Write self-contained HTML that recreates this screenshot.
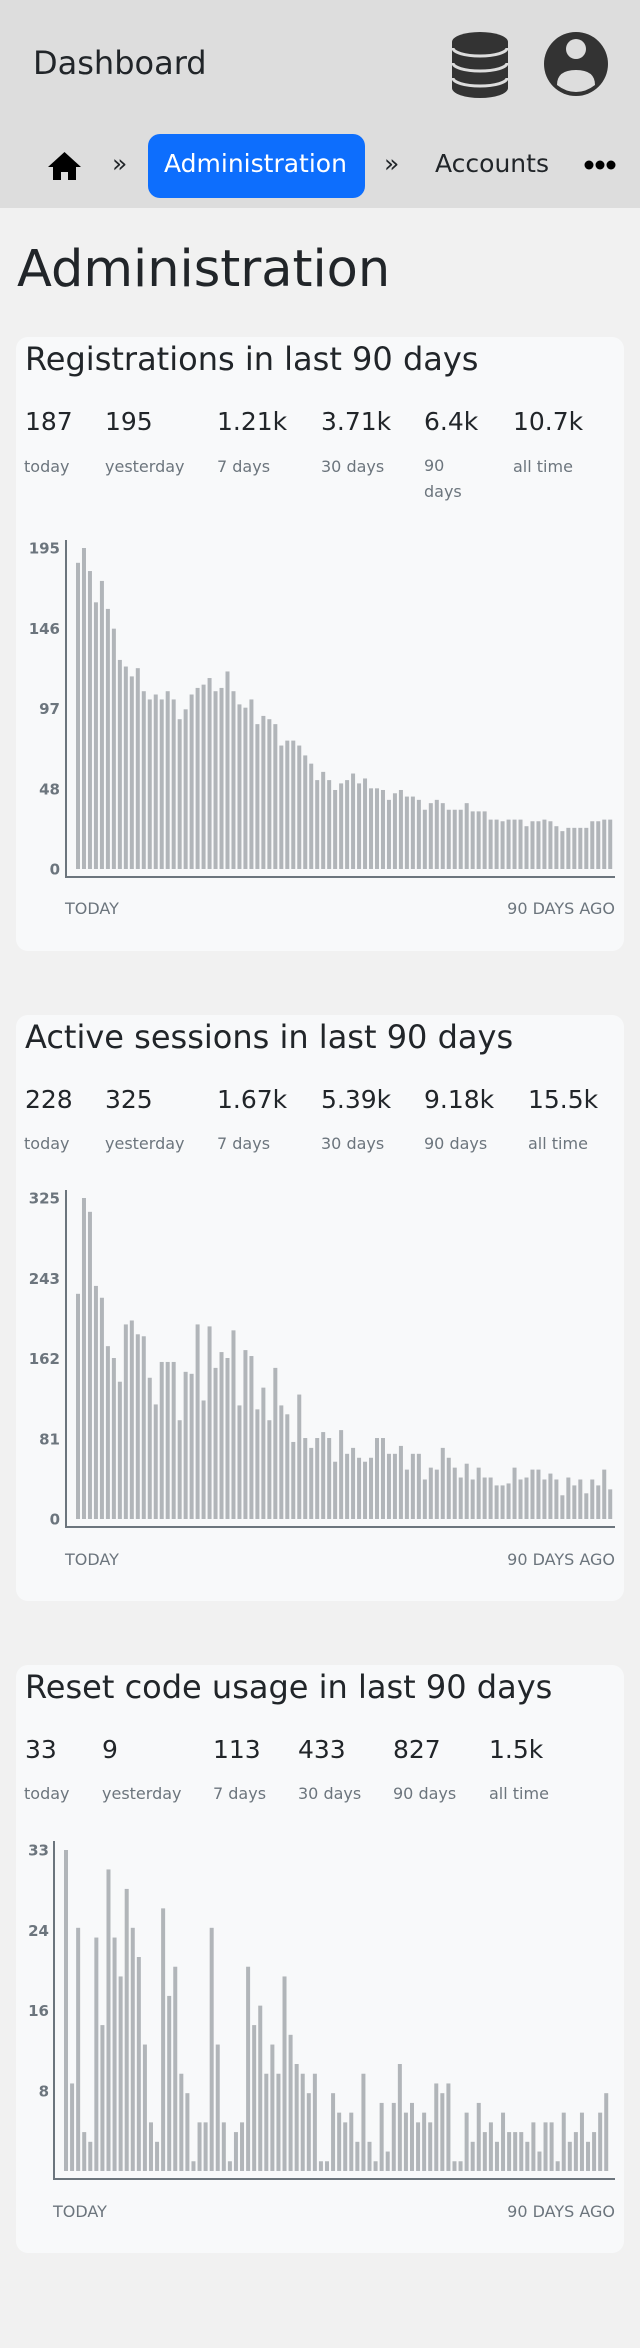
<!DOCTYPE html>
<html><head><meta charset="utf-8">
<style>
html,body{margin:0;padding:0}
body{width:640px;height:2348px;background:#f1f1f1;position:relative;overflow:hidden;font-family:"DejaVu Sans","Liberation Sans",sans-serif;color:#212529}
.a{position:absolute;line-height:1;white-space:nowrap}
.card{position:absolute;left:16px;width:608px;background:#f8f9fa;border-radius:12px}
.t{font-size:32px;color:#212529}
.n{font-size:25px;color:#212529}
.l{font-size:16px;color:#6c757d}
.l2{font-size:16px;color:#6c757d;line-height:26px;white-space:normal}
</style></head>
<body>
<div class="a" style="left:0;top:0;width:640px;height:208px;background:#dddddd"></div>
<div class="a" style="left:33px;top:47px;font-size:32px;color:#212529">Dashboard</div>
<svg class="a" style="left:450px;top:30px" width="60" height="70" viewBox="450 30 60 70">
<path d="M452 42 A28 10 0 0 1 508 42 L508 88 A28 10 0 0 1 452 88 Z" fill="#333"/>
<path d="M453 48 A27 8 0 0 0 507 48" stroke="#ddd" stroke-width="3" fill="none"/>
<path d="M453 63 A27 8 0 0 0 507 63" stroke="#ddd" stroke-width="3" fill="none"/>
<path d="M453 78 A27 8 0 0 0 507 78" stroke="#ddd" stroke-width="3" fill="none"/>
</svg>
<svg class="a" style="left:542px;top:30px" width="68" height="70" viewBox="542 30 68 70">
<ellipse cx="576" cy="64" rx="32" ry="32" fill="#333"/>
<circle cx="576" cy="49" r="10" fill="#ddd"/>
<path d="M557 85 Q557 70 576 70 Q595 70 595 85 Q586 92 576 92 Q566 92 557 85 Z" fill="#ddd"/>
</svg>
<svg class="a" style="left:48px;top:151px" width="34" height="30" viewBox="48 151 34 30">
<path d="M64.5 152 L81 167 L76 167 L76 180 L68 180 L68 172 L61 172 L61 180 L53 180 L53 167 L48 167 Z" fill="#000"/>
</svg>
<div class="a" style="left:112px;top:151px;font-size:25px;color:#212529">»</div>
<div class="a" style="left:148px;top:134px;width:217px;height:64px;background:#0d6efd;border-radius:12px"></div>
<div class="a" style="left:164px;top:151px;font-size:25px;color:#fff">Administration</div>
<div class="a" style="left:384px;top:151px;font-size:25px;color:#212529">»</div>
<div class="a" style="left:435px;top:151px;font-size:25px;color:#212529">Accounts</div>
<svg class="a" style="left:582px;top:158px" width="36" height="14" viewBox="582 158 36 14">
<circle cx="589" cy="165" r="4.5" fill="#000"/><circle cx="600" cy="165" r="4.5" fill="#000"/><circle cx="611" cy="165" r="4.5" fill="#000"/>
</svg>

<div class="a" style="left:17px;top:244px;font-size:51px;color:#212529">Administration</div>

<div class="card" style="top:337px;height:614px"></div>
<div class="a t" style="left:25px;top:343px">Registrations in last 90 days</div>
<div class="a n" style="left:25px;top:409px">187</div>
<div class="a n" style="left:105px;top:409px">195</div>
<div class="a n" style="left:217px;top:409px">1.21k</div>
<div class="a n" style="left:321px;top:409px">3.71k</div>
<div class="a n" style="left:424px;top:409px">6.4k</div>
<div class="a n" style="left:513px;top:409px">10.7k</div>
<div class="a l" style="left:24px;top:459px">today</div>
<div class="a l" style="left:105px;top:459px">yesterday</div>
<div class="a l" style="left:217px;top:459px">7 days</div>
<div class="a l" style="left:321px;top:459px">30 days</div>
<div class="a l2" style="left:424px;top:453px;width:50px">90<br>days</div>
<div class="a l" style="left:513px;top:459px">all time</div>

<div class="card" style="top:1015px;height:586px"></div>
<div class="a t" style="left:25px;top:1021px">Active sessions in last 90 days</div>
<div class="a n" style="left:25px;top:1087px">228</div>
<div class="a n" style="left:105px;top:1087px">325</div>
<div class="a n" style="left:217px;top:1087px">1.67k</div>
<div class="a n" style="left:321px;top:1087px">5.39k</div>
<div class="a n" style="left:424px;top:1087px">9.18k</div>
<div class="a n" style="left:528px;top:1087px">15.5k</div>
<div class="a l" style="left:24px;top:1136px">today</div>
<div class="a l" style="left:105px;top:1136px">yesterday</div>
<div class="a l" style="left:217px;top:1136px">7 days</div>
<div class="a l" style="left:321px;top:1136px">30 days</div>
<div class="a l" style="left:424px;top:1136px">90 days</div>
<div class="a l" style="left:528px;top:1136px">all time</div>

<div class="card" style="top:1665px;height:588px"></div>
<div class="a t" style="left:25px;top:1671px">Reset code usage in last 90 days</div>
<div class="a n" style="left:25px;top:1737px">33</div>
<div class="a n" style="left:102px;top:1737px">9</div>
<div class="a n" style="left:213px;top:1737px">113</div>
<div class="a n" style="left:298px;top:1737px">433</div>
<div class="a n" style="left:393px;top:1737px">827</div>
<div class="a n" style="left:489px;top:1737px">1.5k</div>
<div class="a l" style="left:24px;top:1786px">today</div>
<div class="a l" style="left:102px;top:1786px">yesterday</div>
<div class="a l" style="left:213px;top:1786px">7 days</div>
<div class="a l" style="left:298px;top:1786px">30 days</div>
<div class="a l" style="left:393px;top:1786px">90 days</div>
<div class="a l" style="left:489px;top:1786px">all time</div>

<svg id="charts" class="a" style="left:0;top:0" width="640" height="2348" viewBox="0 0 640 2348"></svg>

<script>
const regValues = [186,195,181,162,175,158,146,127,123,117,122,108,103,106,103,108,103,91,97,106,110,112,116,108,110,120,108,100,98,103,88,93,91,88,75,78,78,75,69,64,54,59,54,48,52,54,58,52,55,49,49,48,42,46,48,44,44,42,36,40,42,40,36,36,36,40,35,35,35,30,30,29,30,30,30,26,29,29,30,29,26,23,25,25,25,25,29,29,30,30];
const regTickValues = [0,48.75,97.5,146.25,195];
const regTickLabels = ["0","48","97","146","195"];
const sesValues = [228,325,311,236,224,175,163,139,197,201,187,185,143,116,159,159,159,100,149,147,197,120,195,153,169,163,191,115,171,165,111,133,100,153,115,106,78,126,82,72,82,88,82,58,90,66,72,62,58,62,82,82,66,66,74,50,66,66,40,52,50,72,62,52,42,56,40,52,42,42,34,34,36,52,40,42,50,50,40,46,40,24,42,34,40,26,40,34,50,30];
const sesTickValues = [0,81.25,162.5,243.75,325];
const sesTickLabels = ["0","81","162","243","325"];
const rcValues = [33,9,25,4,3,24,15,31,24,20,29,25,22,13,5,3,27,18,21,10,8,1,5,5,25,13,5,1,4,5,21,15,17,10,13,10,20,14,11,10,8,10,1,1,8,6,5,6,3,10,3,1,7,2,7,11,6,7,5,6,5,9,8,9,1,1,6,3,7,4,5,3,6,4,4,4,3,5,2,5,5,1,6,3,4,6,3,4,6,8];
const rcTickValues = [0,8.25,16.5,24.75,33];
const rcTickLabels = ["","8","16","24","33"];
const xLabels = ["TODAY","90 DAYS AGO"];

const NS = "http://www.w3.org/2000/svg";
const svg = document.getElementById("charts");
function mk(tag, attrs, parent){
  const e = document.createElementNS(NS, tag);
  for (const k in attrs) e.setAttribute(k, attrs[k]);
  parent.appendChild(e);
  return e;
}
function drawChart(prefix, values, tickValues, tickLabels, g){
  const grp = mk("g", {}, svg);
  
  
  const max = tickValues[tickValues.length-1];
  const y = v => g.base - v / max * (g.base - g.topY);
  const x = i => g.barX0 + i * g.step;
  values.forEach((v, i) => {
    const r = mk("rect", {x: x(i), y: y(v), width: 4, height: g.base - y(v), fill: "#b1b5b9"}, grp);
    
    
  });
  const ya = mk("line", {x1: g.axisX, y1: g.axisTop, x2: g.axisX, y2: g.axisY + 1, stroke: "#6c757d", "stroke-width": 2}, grp);
  
  
  const xa = mk("line", {x1: g.axisX - 1, y1: g.axisY, x2: 615, y2: g.axisY, stroke: "#6c757d", "stroke-width": 2}, grp);
  
  
  tickValues.forEach((tv, i) => {
    const t = mk("text", {x: g.labelRight, y: y(tv) + 5.5, "text-anchor": "end", "font-size": 15, "font-weight": "bold", fill: "#6c757d", "font-family": "DejaVu Sans, Liberation Sans, sans-serif"}, grp);
    t.textContent = tickLabels[i];
    
    
  });
  const t1 = mk("text", {x: g.axisX - 1, y: g.labelsY + 6, "font-size": 16, fill: "#6c757d", "font-family": "DejaVu Sans, Liberation Sans, sans-serif"}, grp);
  t1.textContent = xLabels[0];
  
  
  const t2 = mk("text", {x: 615, y: g.labelsY + 6, "text-anchor": "end", "font-size": 16, fill: "#6c757d", "font-family": "DejaVu Sans, Liberation Sans, sans-serif"}, grp);
  t2.textContent = xLabels[1];
  
  
}
drawChart("registrations", regValues, regTickValues, regTickLabels,
  {axisX:66, axisTop:540, axisY:877, base:869, topY:548, barX0:76, step:5.98, labelRight:60, labelsY:908});
drawChart("sessions", sesValues, sesTickValues, sesTickLabels,
  {axisX:66, axisTop:1190, axisY:1527, base:1519, topY:1198, barX0:76, step:5.98, labelRight:60, labelsY:1559});
drawChart("reset-codes", rcValues, rcTickValues, rcTickLabels,
  {axisX:54, axisTop:1841, axisY:2179, base:2171, topY:1850, barX0:64, step:6.07, labelRight:49, labelsY:2211});
</script>
</body></html>
